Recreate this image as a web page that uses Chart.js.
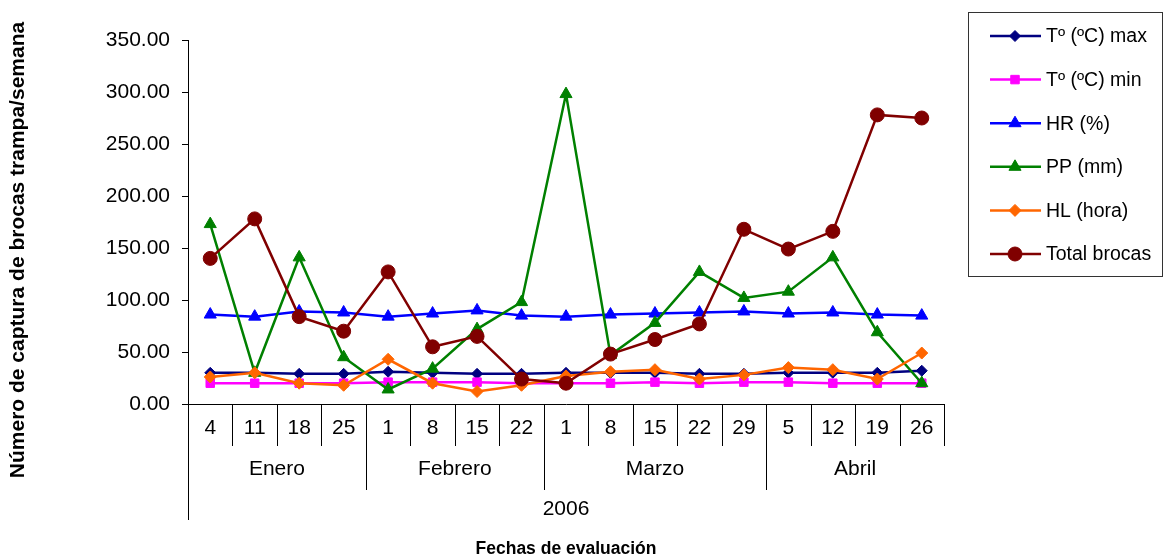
<!DOCTYPE html>
<html>
<head>
<meta charset="utf-8">
<script src="https://cdn.jsdelivr.net/npm/chart.js@4.4.0/dist/chart.umd.min.js"></script>
<style>
  html, body { margin: 0; padding: 0; background: #fff; }
  #wrap { width: 1164px; height: 558px; position: relative; }
</style>
</head>
<body>
<div id="wrap"><canvas id="chart" width="1164" height="558"></canvas></div>
<script>
// Categories (x axis, three levels)
const dayLabels = ['4', '11', '18', '25', '1', '8', '15', '22', '1', '8', '15', '22', '29', '5', '12', '19', '26'];
const monthNames = ['Enero', 'Febrero', 'Marzo', 'Abril'];
const monthSpans = [4, 4, 5, 4];
const yearLabel = '2006';

// Series values
const tMax = [30, 30, 29, 29, 31, 30, 29, 29, 30, 30, 30, 29, 29, 30, 30, 30, 32];
const tMin = [20, 20, 20, 20, 21, 21, 21, 20, 20, 20, 21, 20, 21, 21, 20, 20, 20];
const hr = [86, 84, 89, 88, 84, 87, 90, 85, 84, 86, 87, 88, 89, 87, 88, 86, 85];
const pp = [173, 30, 141, 45, 14, 34, 72, 98, 298, 47, 78, 127, 102, 108, 141, 69, 20];
const hl = [26, 30, 20, 18, 43, 20, 12, 18, 27, 31, 33, 24, 28, 35, 33, 24, 49];
const brocas = [140, 178, 84, 70, 127, 55, 65, 24, 20, 48, 62, 77, 168, 149, 166, 278, 275];

const yTitle = 'Número de captura de brocas trampa/semana';
const xTitle = 'Fechas de evaluación';

const FONT = '"Liberation Sans", Arial, sans-serif';

const series = [
    { label: 'Tº (ºC) max', data: tMax, color: '#000080', style: 'rectRot', r: 5.5 },
    { label: 'Tº (ºC) min', data: tMin, color: '#FF00FF', style: 'rect', r: 6 },
    { label: 'HR (%)', data: hr, color: '#0000FF', style: 'triangle', r: 7 },
    { label: 'PP (mm)', data: pp, color: '#008000', style: 'triangle', r: 7 },
    { label: 'HL (hora)', data: hl, color: '#FF6600', style: 'rectRot', r: 6 },
    { label: 'Total brocas', data: brocas, color: '#800000', style: 'circle', r: 7 }
];

// multi-level category rows, legend box and axis titles
const extrasPlugin = {
    id: 'extras',
    afterDraw(chart) {
        const ctx = chart.ctx;
        const x = chart.scales.x;
        const area = chart.chartArea;
        const step = x.getPixelForValue(1) - x.getPixelForValue(0);
        const edge = i => x.getPixelForValue(0) - step / 2 + i * step;
        const yAxis = area.bottom;
        const row1 = yAxis + 42, row2 = row1 + 44, row3 = row2 + 30;

        ctx.save();
        ctx.strokeStyle = '#000';
        ctx.lineWidth = 1;
        ctx.beginPath();
        for (let i = 0; i <= dayLabels.length; i++) {
            const px = Math.round(edge(i)) + 0.5;
            ctx.moveTo(px, yAxis);
            ctx.lineTo(px, i === 0 ? row3 : row1);
        }
        let acc = 0;
        monthSpans.forEach((n, k) => {
            acc += n;
            if (k < monthSpans.length - 1) {
                const px = Math.round(edge(acc)) + 0.5;
                ctx.moveTo(px, row1);
                ctx.lineTo(px, row2);
            }
        });
        ctx.stroke();

        ctx.fillStyle = '#000';
        ctx.font = '21px ' + FONT;
        ctx.textAlign = 'center';
        ctx.textBaseline = 'middle';
        acc = 0;
        monthSpans.forEach((n, k) => {
            const mid = (edge(acc) + edge(acc + n)) / 2;
            ctx.fillText(monthNames[k], mid, (row1 + row2) / 2 + 1);
            acc += n;
        });
        ctx.fillText(yearLabel, (edge(0) + edge(dayLabels.length)) / 2, (row2 + row3) / 2 + 4);

        // axis titles
        ctx.font = 'bold 17.5px ' + FONT;
        ctx.fillText(xTitle, (area.left + area.right) / 2, 549);
        ctx.save();
        ctx.translate(18, 250);
        ctx.rotate(-Math.PI / 2);
        ctx.font = 'bold 21px ' + FONT;
        ctx.fillText(yTitle, 0, 0);
        ctx.restore();

        // legend
        const lx = 968, ly = 12, lw = 194, lh = 264;
        ctx.strokeStyle = '#333';
        ctx.strokeRect(lx + 0.5, ly + 0.5, lw, lh);
        ctx.font = '19.5px ' + FONT;
        ctx.textAlign = 'left';
        series.forEach((s, i) => {
            const cy = 36 + i * 43.6;
            ctx.strokeStyle = s.color;
            ctx.lineWidth = 2.5;
            ctx.beginPath();
            ctx.moveTo(990, cy);
            ctx.lineTo(1041, cy);
            ctx.stroke();
            ctx.fillStyle = s.color;
            ctx.lineWidth = 1;
            Chart.helpers.drawPoint(ctx, { pointStyle: s.style, radius: s.r, rotation: 0, borderWidth: 1 }, 1015, cy);
            ctx.fillStyle = '#000';
            ctx.fillText(s.label, 1046, cy + 1);
        });
        ctx.restore();
    }
};

const ctx = document.getElementById('chart').getContext('2d');
new Chart(ctx, {
    type: 'line',
    data: {
        labels: dayLabels,
        datasets: series.map((s, i) => ({
            label: s.label,
            data: s.data,
            borderColor: s.color,
            backgroundColor: s.color,
            pointBackgroundColor: s.color,
            pointBorderColor: s.color,
            pointStyle: s.style,
            pointRadius: s.r,
            pointBorderWidth: 1,
            borderWidth: 2.5,
            tension: 0,
            fill: false,
            order: series.length - i
        }))
    },
    options: {
        responsive: false,
        animation: false,
        events: [],
        layout: { padding: { left: 0, top: 40, right: 220, bottom: 0 } },
        plugins: { legend: { display: false }, tooltip: { enabled: false } },
        scales: {
            x: {
                offset: true,
                grid: { display: false },
                border: { display: true, color: '#000', width: 1 },
                ticks: { color: '#000', font: { family: FONT, size: 21 }, padding: 4, maxRotation: 0, autoSkip: false },
                afterFit(scale) { scale.height = 154; }
            },
            y: {
                min: 0,
                max: 350,
                grid: { drawOnChartArea: false, drawTicks: true, tickLength: 6, color: '#000' },
                border: { display: true, color: '#000', width: 1 },
                ticks: {
                    stepSize: 50,
                    color: '#000',
                    font: { family: FONT, size: 21 },
                    padding: 12,
                    callback: v => v.toFixed(2)
                },
                afterFit(scale) { scale.width = 188; }
            }
        }
    },
    plugins: [extrasPlugin]
});
</script>
</body>
</html>
